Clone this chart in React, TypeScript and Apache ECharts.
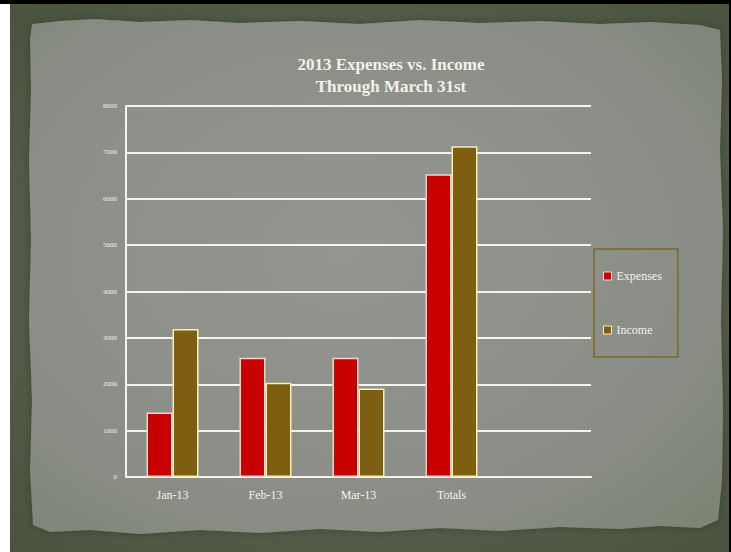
import React, { useEffect, useRef } from "react";
import * as echarts from "echarts";

const categories = ["Jan-13", "Feb-13", "Mar-13", "Totals", ""];
const expenses = [1390, 2570, 2570, 6530, null];
const income = [3190, 2030, 1910, 7130, null];
const yTicks = { min: 0, max: 8000, interval: 1000 };

const FONT = "'Liberation Serif', 'DejaVu Serif', serif";

function paperPoints(): number[][] {
  return [
    [32, 24], [60, 21], [95, 19], [140, 22], [190, 20], [240, 23], [300, 21], [360, 24],
    [420, 20], [480, 23], [540, 21], [600, 24], [650, 22], [700, 25], [720, 30],
    [722, 80], [720, 150], [723, 230], [721, 320], [723, 410], [722, 480], [718, 520],
    [700, 528], [660, 526], [620, 529], [560, 527], [500, 531], [440, 528], [380, 532],
    [320, 529], [260, 533], [200, 530], [140, 534], [90, 530], [50, 532], [33, 525],
    [30, 470], [32, 400], [29, 320], [31, 240], [29, 160], [31, 90], [30, 40],
  ];
}

export default function App() {
  const ref = useRef<HTMLDivElement>(null);
  useEffect(() => {
    if (!ref.current) return;
    const chart = echarts.init(ref.current, null, { renderer: "svg" });
    chart.setOption({
      animation: false,
      backgroundColor: "#ffffff",
      graphic: [
        { type: "rect", z: -10, shape: { x: 0, y: 0, width: 731, height: 4 }, style: { fill: "#000" } },
        { type: "rect", z: -10, shape: { x: 729, y: 0, width: 2, height: 552 }, style: { fill: "#000" } },
        {
          type: "rect", z: -10, shape: { x: 10, y: 4, width: 719, height: 548 },
          style: {
            fill: new echarts.graphic.RadialGradient(0.5, 0.5, 0.75, [
              { offset: 0, color: "#626b58" },
              { offset: 1, color: "#48523f" },
            ]),
          },
        },
        {
          type: "polygon", z: -9, shape: { points: paperPoints() },
          style: {
            fill: new echarts.graphic.RadialGradient(0.45, 0.45, 0.75, [
              { offset: 0, color: "#949690" },
              { offset: 0.7, color: "#8a8d85" },
              { offset: 1, color: "#7c8474" },
            ]),
            shadowBlur: 6, shadowColor: "rgba(40,50,35,0.6)",
          },
        },
      ],
      title: {
        text: "2013 Expenses vs. Income\nThrough March 31st",
        left: 386, top: 48, textAlign: "center",
        textStyle: { color: "#f3f1ea", fontFamily: FONT, fontWeight: "bold", fontSize: 17, lineHeight: 22 },
      },
      legend: {
        orient: "vertical", left: 594, top: 249,
        padding: [21, 16, 21, 9], itemGap: 42, itemWidth: 8, itemHeight: 8,
        borderColor: "#7a6a2e", borderWidth: 1.5,
        textStyle: { color: "#f3f1ea", fontFamily: FONT, fontSize: 12 },
        data: [
          { name: "Expenses", icon: "rect", itemStyle: { color: "#c80000", borderColor: "#f3d6cc", borderWidth: 1 } },
          { name: "Income", icon: "rect", itemStyle: { color: "#7e5f12", borderColor: "#f4f0b8", borderWidth: 1 } },
        ],
      },
      grid: { left: 126, right: 140, top: 106, bottom: 75, containLabel: false },
      xAxis: {
        type: "category", data: categories,
        axisLine: { lineStyle: { color: "#f4f2ea", width: 2 } },
        axisTick: { show: false },
        axisLabel: { color: "#f3f1ea", fontFamily: FONT, fontSize: 12, margin: 12 },
      },
      yAxis: {
        type: "value", min: yTicks.min, max: yTicks.max, interval: yTicks.interval,
        axisLine: { show: true, lineStyle: { color: "#f4f2ea", width: 2 } },
        axisTick: { show: false },
        axisLabel: {
          color: "#f3f1ea", fontFamily: FONT, fontSize: 7, margin: 9,
          formatter: (v: number) => String(v),
        },
        splitLine: { lineStyle: { color: "#f4f2ea", width: 2 } },
      },
      series: [
        {
          name: "Expenses", type: "bar", data: expenses, barWidth: 26, barGap: "0%",
          itemStyle: { color: "#c80000", borderColor: "#f3d6cc", borderWidth: 1.5 },
        },
        {
          name: "Income", type: "bar", data: income, barWidth: 26, barGap: "0%",
          itemStyle: { color: "#7e5f12", borderColor: "#f4f0b8", borderWidth: 1.5 },
        },
      ],
    });
    return () => chart.dispose();
  }, []);
  return <div ref={ref} style={{ position: "fixed", left: 0, top: 0, width: 731, height: 552 }} />;
}
